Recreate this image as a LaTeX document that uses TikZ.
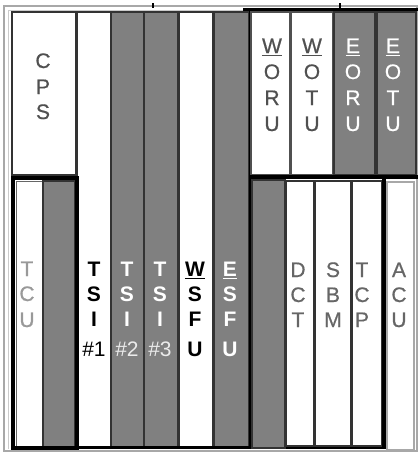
\documentclass[tikz,border=0pt]{standalone}
\usepackage{fontspec}
\setmainfont{Liberation Sans}
\newfontfamily\heavyreg[FakeBold=0.6]{Liberation Sans}
\definecolor{slotgray}{HTML}{808080}
\definecolor{edgec}{HTML}{333333}
\definecolor{framec}{HTML}{A8A8A8}
\definecolor{txtdark}{HTML}{505050}
\definecolor{txtmid}{HTML}{666666}
\definecolor{txtlight}{HTML}{999999}
\tikzset{
  frameline/.style={draw=framec, line width=1.3},
  wslot/.style={draw=edgec, line width=1.5, fill=white},
  gslot/.style={draw=edgec, line width=1.5, fill=slotgray},
  lslot/.style={draw=framec, line width=1.3, fill=white},
  bar/.style={black, line width=3.5},
  lbl/.style={inner sep=0, anchor=base, font=\fontsize{21}{25}\selectfont\heavyreg},
  nlbl/.style={inner sep=0, anchor=base, font=\fontsize{21}{25}\selectfont},
  blbl/.style={inner sep=0, anchor=base, font=\fontsize{21}{25}\selectfont\bfseries},
}
\begin{document}
\begin{tikzpicture}[x=1pt,y=-1pt]
\useasboundingbox (0,0) rectangle (420,453);
\fill[white] (0,0) rectangle (420,453);
% outer frame
\draw[frameline] (4,6) rectangle (417,451);
\draw[draw=framec!60, line width=0.8] (8,449) -- (8,10) -- (243,10);
\draw[black, line width=3] (243,9) -- (418,9);
\draw[black, line width=1.2] (153,3) -- (153,8);
\draw[black, line width=1.2] (340,3) -- (340,8);
% CPS
\draw[wslot] (12,12) rectangle (76,175);
% full-height columns
\draw[wslot] (77,12) rectangle (111,447);
\draw[gslot] (111,12) rectangle (144,447);
\draw[gslot] (144,12) rectangle (178,447);
\draw[wslot] (179,12) rectangle (213,447);
\draw[gslot] (214,12) rectangle (249,447);
% TCU group
\draw[draw=txtmid, line width=1, fill=white] (16,181) rectangle (42,446);
\draw[gslot] (43,181) rectangle (75,448);
\draw[bar] (13,178) rectangle (77,448);
\draw[black, line width=3] (77,447) -- (386,447);
% right chassis
\draw[black, line width=3] (250,9) -- (250,449);
\draw[draw=txtdark, line width=1.2, fill=white] (251,12) rectangle (290,175);
\draw[draw=txtdark, line width=1.2, fill=white] (291,12) rectangle (333,175);
\draw[gslot] (334,12) rectangle (375,175);
\draw[gslot] (377,12) rectangle (416,175);
\draw[bar] (250,177) -- (418,177);
\draw[gslot] (252,180) rectangle (285,448);
\draw[wslot] (286,181) rectangle (314,446);
\draw[wslot] (315,181) rectangle (351,446);
\draw[wslot] (352,181) rectangle (382,446);
\draw[bar] (384,178) -- (384,449);
\draw[lslot] (387,182) rectangle (414,450);
% labels: top row
\foreach \t/\y [count=\i] in {C/68,P/94,S/119}
  \node[lbl, text=txtdark] (cps-\i) at (43,\y) {\t};
\foreach \t/\y [count=\i] in {W/53,O/79,R/105,U/131}
  \node[lbl, text=txtdark] (woru-\i) at (272,\y) {\t};
\foreach \t/\y [count=\i] in {W/53,O/79,T/105,U/131}
  \node[lbl, text=txtdark] (wotu-\i) at (312,\y) {\t};
\foreach \t/\y [count=\i] in {E/53,O/79,R/105,U/131}
  \node[lbl, text=white] (eoru-\i) at (353,\y) {\t};
\foreach \t/\y [count=\i] in {E/53,O/79,T/105,U/131}
  \node[lbl, text=white] (eotu-\i) at (393,\y) {\t};
\draw[txtdark, line width=1.6] ([yshift=-2.5pt]woru-1.base west) -- ([yshift=-2.5pt]woru-1.base east);
\draw[txtdark, line width=1.6] ([yshift=-2.5pt]wotu-1.base west) -- ([yshift=-2.5pt]wotu-1.base east);
\draw[white, line width=1.6] ([yshift=-2.5pt]eoru-1.base west) -- ([yshift=-2.5pt]eoru-1.base east);
\draw[white, line width=1.6] ([yshift=-2.5pt]eotu-1.base west) -- ([yshift=-2.5pt]eotu-1.base east);
% labels: bottom row
\foreach \t/\y [count=\i] in {T/276,C/301,U/327}
  \node[lbl, text=txtlight] (tcu-\i) at (27,\y) {\t};
\foreach \t/\y [count=\i] in {T/276,S/301,I/326}
  \node[blbl, text=black] (tsia-\i) at (94,\y) {\t};
\node[nlbl, text=black] (tsia-4) at (94,356) {\#1};
\foreach \t/\y [count=\i] in {T/276,S/301,I/326}
  \node[blbl, text=white] (tsib-\i) at (127,\y) {\t};
\node[nlbl, text=white!92!black] (tsib-4) at (127,356) {\#2};
\foreach \t/\y [count=\i] in {T/276,S/301,I/326}
  \node[blbl, text=white] (tsic-\i) at (160,\y) {\t};
\node[nlbl, text=white!92!black] (tsic-4) at (160,356) {\#3};
\foreach \t/\y [count=\i] in {W/276,S/301,F/326,U/356}
  \node[blbl, text=black] (wsfu-\i) at (195,\y) {\t};
\foreach \t/\y [count=\i] in {E/276,S/301,F/326,U/356}
  \node[blbl, text=white] (esfu-\i) at (230,\y) {\t};
\draw[black, line width=1.6] ([yshift=-2.5pt]wsfu-1.base west) -- ([yshift=-2.5pt]wsfu-1.base east);
\draw[white, line width=1.6] ([yshift=-2.5pt]esfu-1.base west) -- ([yshift=-2.5pt]esfu-1.base east);
\foreach \t/\y [count=\i] in {D/277,C/302,T/327}
  \node[lbl, text=txtmid] (dct-\i) at (298,\y) {\t};
\foreach \t/\y [count=\i] in {S/277,B/302,M/327}
  \node[lbl, text=txtmid] (sbm-\i) at (333,\y) {\t};
\foreach \t/\y [count=\i] in {T/277,C/302,P/327}
  \node[lbl, text=txtmid] (tcp-\i) at (362,\y) {\t};
\foreach \t/\y [count=\i] in {A/277,C/302,U/327}
  \node[lbl, text=txtmid] (acu-\i) at (399,\y) {\t};
\end{tikzpicture}
\end{document}
